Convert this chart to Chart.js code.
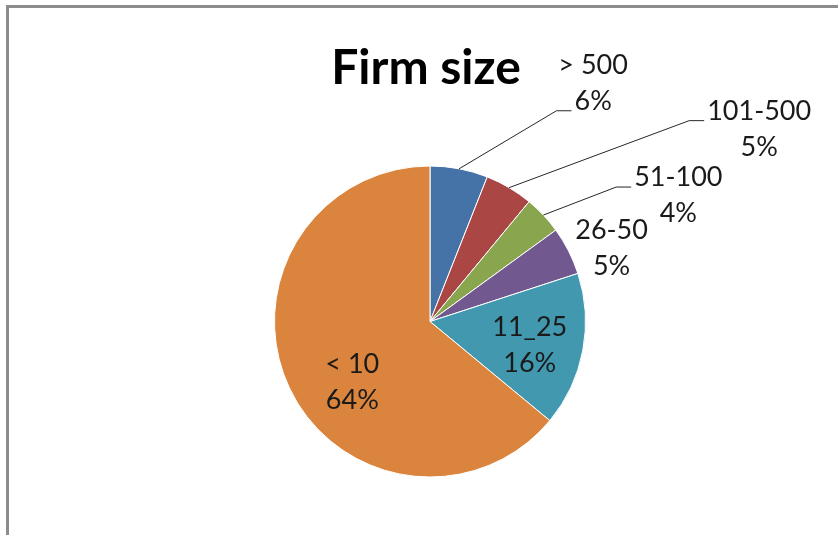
<!DOCTYPE html>
<html>
<head>
<meta charset="utf-8">
<script src="https://cdn.jsdelivr.net/npm/chart.js@4.4.0/dist/chart.umd.min.js"></script>
<style>
  html, body { margin: 0; padding: 0; background: #fff; }
  #wrap { position: relative; width: 838px; height: 535px; overflow: hidden; }
  #frame { position: absolute; left: 6px; top: 5px; width: 900px; height: 600px;
           border-left: 3px solid #8c8c8c; border-top: 3px solid #8c8c8c; }
  #sizeChart { position: absolute; left: 0; top: 0; }
</style>
</head>
<body>
<div id="wrap">
  <div id="frame"></div>
  <canvas id="sizeChart" width="838" height="535"></canvas>
</div>
<script>
	// 公司規模分佈
	const titleText = 'Firm size';
	const sizeLabels = ['> 500', '101-500', '51-100', '26-50', '11_25', '< 10'];
	const sizeShares = [6, 5, 4, 5, 16, 64];
	const sliceColors = ['#4572A7', '#AA4643', '#89A54E', '#71588F', '#4198AF', '#DB843D'];

	// label placement: offset from the slice's outer mid point, leader = which text line the leader hooks to (-1 = none)
	const labelOffsets = [
		{ dx: 134, dy: -95, leader: 1 },
		{ dx: 250, dy: -68, leader: 0 },
		{ dx: 135, dy: -29, leader: 0 },
		{ dx: 43,  dy: -12, leader: -1 },
		{ dx: -53, dy: -15, leader: -1 },
		{ dx: 63,  dy: -15, leader: -1 }
	];

	const ctx = document.getElementById('sizeChart').getContext('2d');

	const pieLabels = {
		id: 'pieLabels',
		afterDraw(chart) {
			const c = chart.ctx;
			const meta = chart.getDatasetMeta(0);
			const data = chart.data.datasets[0].data;
			const total = data.reduce((a, b) => a + b, 0);
			const lineH = 36;

			// title
			c.save();
			c.font = 'bold 48px Lato';
			c.fillStyle = '#000';
			c.textAlign = 'center';
			c.textBaseline = 'alphabetic';
			c.fillText(titleText, 426, 84);
			c.restore();

			meta.data.forEach((arc, i) => {
				const p = arc.getProps(['x', 'y', 'startAngle', 'endAngle', 'outerRadius'], true);
				const mid = (p.startAngle + p.endAngle) / 2;
				const ex = p.x + Math.cos(mid) * p.outerRadius;
				const ey = p.y + Math.sin(mid) * p.outerRadius;
				const off = labelOffsets[i];
				const ax = ex + off.dx, ay = ey + off.dy;
				const lines = [chart.data.labels[i], Math.round(data[i] / total * 100) + '%'];

				c.save();
				c.font = '27px Lato';
				c.fillStyle = '#1a1a1a';
				c.textAlign = 'center';
				c.textBaseline = 'alphabetic';
				lines.forEach((t, k) => c.fillText(t, ax, ay + k * lineH));

				if (off.leader >= 0) {
					const w = c.measureText(lines[off.leader]).width;
					const endX = ax - w / 2 - 3;
					const endY = ay + off.leader * lineH + 1;
					c.strokeStyle = '#262626';
					c.lineWidth = 1;
					c.beginPath();
					c.moveTo(ex, ey);
					c.lineTo(endX - 15, endY);
					c.lineTo(endX, endY);
					c.stroke();
				}
				c.restore();
			});
		}
	};

	const chart = new Chart(ctx, {
		type: 'pie',
		data: {
			labels: sizeLabels,
			datasets: [{
				data: sizeShares,
				backgroundColor: sliceColors,
				borderColor: '#ffffff',
				borderWidth: 1
			}]
		},
		options: {
			responsive: false,
			animation: false,
			layout: { padding: { top: 165, bottom: 57, left: 274, right: 252 } },
			plugins: {
				legend: { display: false },
				tooltip: { enabled: false },
				title: { display: false }
			}
		},
		plugins: [pieLabels]
	});
</script>
</body>
</html>
